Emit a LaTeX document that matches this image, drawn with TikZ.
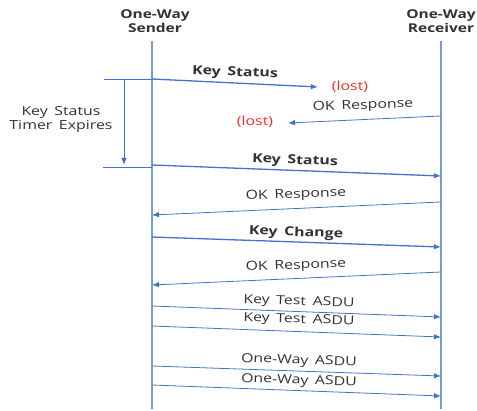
\documentclass[tikz,border=0pt]{standalone}
\usepackage{fontspec}
\setmainfont{Open Sans}[FakeStretch=1.27, WordSpace=1.6]
\usetikzlibrary{arrows.meta}
\definecolor{lineblue}{RGB}{68,114,196}
\definecolor{lifeblue}{RGB}{120,155,210}
\definecolor{txt}{RGB}{50,50,50}
\definecolor{lostred}{RGB}{255,40,40}
\begin{document}
\begin{tikzpicture}[x=1pt,y=-1pt,
  life/.style={draw=lifeblue,line width=1.1pt},
  msg/.style={draw=lineblue,line width=0.8pt,-{Latex[length=7pt,width=5.5pt]}},
  bmsg/.style={msg,line width=1.3pt},
  lbl/.style={font=\fontsize{12.5}{14}\selectfont,text=txt,inner sep=0pt},
  blbl/.style={lbl,font=\fontsize{12.5}{14}\selectfont\bfseries},
  lost/.style={lbl,text=lostred},
  head/.style={font=\fontsize{12.2}{13.5}\selectfont\bfseries,text=txt,align=center,inner sep=0pt}]
\useasboundingbox (0,0) rectangle (477,411);
% participants
\node[head] (snd) at (155,21) {One-Way\\Sender};
\node[head] (rcv) at (441,21) {One-Way\\Receiver};
\coordinate (s0) at (152,41); \coordinate (s1) at (152,409);
\coordinate (r0) at (441,41); \coordinate (r1) at (441,409);
\draw[life] (s0) -- (s1);
\draw[life] (r0) -- (r1);
% first Key Status, lost
\coordinate (a1) at (152,79); \coordinate (b1) at (318,87);
\draw[bmsg] (a1) -- (b1);
\node[blbl,rotate=-2] (l1) at (235,73) {Key Status};
\node[lost] (x1) at (350,87) {(lost)};
% OK Response, lost
\coordinate (a2) at (441,116); \coordinate (b2) at (288,123);
\draw[msg] (a2) -- (b2);
\node[lbl,rotate=2] (l2) at (363,106) {OK Response};
\node[lost] (x2) at (255,122) {(lost)};
% timer
\coordinate (t0) at (104,79); \coordinate (t1) at (103,167);
\coordinate (t2) at (152,167);
\coordinate (v0) at (124,79); \coordinate (v1) at (124,165);
\draw[draw=lineblue,line width=0.8pt] (t0) -- (a1);
\draw[draw=lineblue,line width=0.8pt] (t1) -- (t2);
\draw[msg] (v0) -- (v1);
\node[lbl,align=center] (tm) at (61,119) {Key Status\\Timer Expires};
% retry
\coordinate (a3) at (152,165); \coordinate (b3) at (441,176);
\draw[bmsg] (a3) -- (b3);
\node[blbl,rotate=-2] (l3) at (295,161) {Key Status};
\coordinate (a4) at (441,202); \coordinate (b4) at (152,215);
\draw[msg] (a4) -- (b4);
\node[lbl,rotate=2.2] (l4) at (296,195) {OK Response};
\coordinate (a5) at (152,237); \coordinate (b5) at (441,247);
\draw[bmsg] (a5) -- (b5);
\node[blbl,rotate=-2] (l5) at (296,233) {Key Change};
\coordinate (a6) at (441,272); \coordinate (b6) at (152,285);
\draw[msg] (a6) -- (b6);
\node[lbl,rotate=2.2] (l6) at (296,266) {OK Response};
\coordinate (a7) at (152,306); \coordinate (b7) at (441,317);
\draw[msg] (a7) -- (b7);
\node[lbl,rotate=-2] (l7) at (299,302) {Key Test ASDU};
\coordinate (a8) at (152,326); \coordinate (b8) at (441,337);
\draw[msg] (a8) -- (b8);
\node[lbl,rotate=-2] (l8) at (299,320) {Key Test ASDU};
\coordinate (a9) at (152,366); \coordinate (b9) at (441,376);
\draw[msg] (a9) -- (b9);
\node[lbl,rotate=-2] (l9) at (299,361) {One-Way ASDU};
\coordinate (a10) at (152,385); \coordinate (b10) at (441,396);
\draw[msg] (a10) -- (b10);
\node[lbl,rotate=-2] (l10) at (299,381) {One-Way ASDU};
\end{tikzpicture}
\end{document}
